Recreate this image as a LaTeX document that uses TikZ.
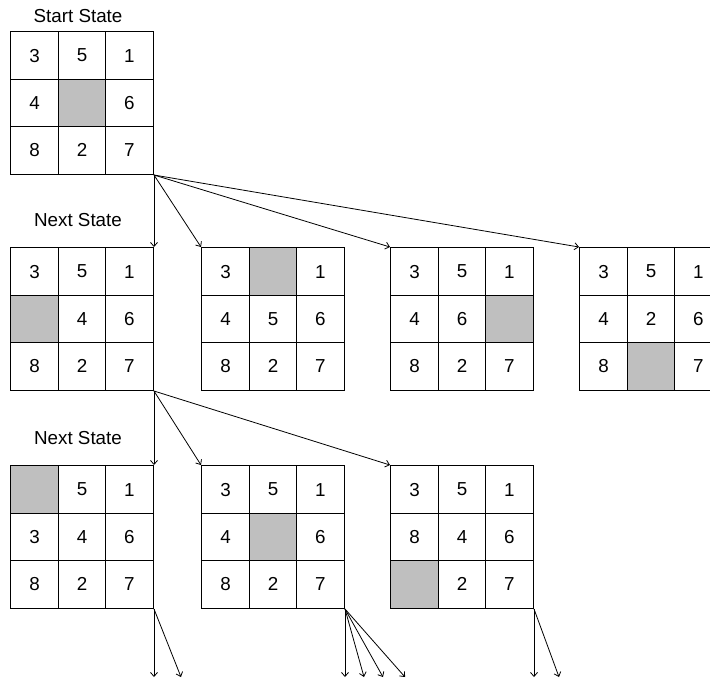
\documentclass[tikz,border=0pt]{standalone}
\usepackage{fontspec}
\setmainfont{Liberation Sans}
\usetikzlibrary{matrix,positioning,arrows.meta}
\definecolor{blankgray}{gray}{0.75}

\tikzset{
		board/.style={
			matrix of nodes,
			nodes in empty cells,
			inner sep=0pt,
			anchor=north west,
			column sep=-0.5pt,
			row sep=-0.5pt,
			nodes={draw,line width=0.5pt,minimum size=23.7pt,inner sep=0pt,anchor=center,font=\fontsize{9.4}{11}\selectfont}
		},
		blank/.style={fill=blankgray},
		move/.style={-{Straight Barb[length=2pt,width=3.5pt]},line width=0.4pt},
		title/.style={inner sep=0pt,xshift=-2pt,font=\fontsize{9.4}{11}\selectfont}
	}

\begin{document}
\begin{tikzpicture}[x=0.5pt,y=-0.5pt]
				\clip (0,0) rectangle (710,677);
				% start state
				\matrix[board] (s) at (10,31) {
					3 & 5 & 1 \\
					4 & |[blank]| & 6 \\
					8 & 2 & 7 \\
				};
				\node[title,above=4pt of s] {Start State};
				% first level
				\matrix[board] (a1) at (10,247) {
					3 & 5 & 1 \\
					|[blank]| & 4 & 6 \\
					8 & 2 & 7 \\
				};
				\matrix[board] (a2) at (201,247) {
					3 & |[blank]| & 1 \\
					4 & 5 & 6 \\
					8 & 2 & 7 \\
				};
				\matrix[board] (a3) at (390,247) {
					3 & 5 & 1 \\
					4 & 6 & |[blank]| \\
					8 & 2 & 7 \\
				};
				\matrix[board] (a4) at (579,247) {
					3 & 5 & 1 \\
					4 & 2 & 6 \\
					8 & |[blank]| & 7 \\
				};
				\node[title,above=10pt of a1] {Next State};
				% second level
				\matrix[board] (b1) at (10,465) {
					|[blank]| & 5 & 1 \\
					3 & 4 & 6 \\
					8 & 2 & 7 \\
				};
				\matrix[board] (b2) at (201,465) {
					3 & 5 & 1 \\
					4 & |[blank]| & 6 \\
					8 & 2 & 7 \\
				};
				\matrix[board] (b3) at (390,465) {
					3 & 5 & 1 \\
					8 & 4 & 6 \\
					|[blank]| & 2 & 7 \\
				};
				\node[title,above=10pt of b1] {Next State};
				% moves
				\draw[move] (s.south east) -- (a1.north east);
				\foreach \n in {a2,a3,a4}
					\draw[move] (s.south east) -- (\n.north west);
				\draw[move] (a1.south east) -- (b1.north east);
				\foreach \n in {b2,b3}
					\draw[move] (a1.south east) -- (\n.north west);
				% open ends
				\foreach \b/\dx [count=\i] in {b1/0pt,b1/13.5pt,b2/0pt,b2/9.5pt,b2/19pt,b2/30pt,b3/0pt,b3/12.5pt} {
					\coordinate (e\i) at ([xshift=\dx,yshift=-34pt]\b.south east);
					\draw[move] (\b.south east) -- (e\i);
				}
			\end{tikzpicture}
\end{document}
